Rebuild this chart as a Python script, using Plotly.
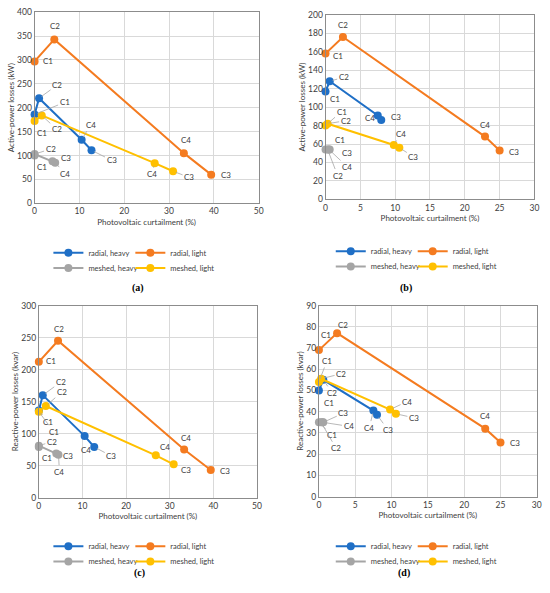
import plotly.graph_objects as go

# point labels along each line (drawn in this order)
case_labels = ["C1", "C2", "C4", "C3"]
series_names = ["radial, heavy", "radial, light", "meshed, heavy", "meshed, light"]
series_colors = ["#1f6fc6", "#f47b20", "#a5a5a5", "#ffc000"]

# (a) active-power losses, first network
a_x_radial_heavy = [0, 1.0, 10.5, 12.7]
a_y_radial_heavy = [186, 220, 133, 111]
a_x_radial_light = [0, 4.4, 33.3, 39.4]
a_y_radial_light = [297, 343, 105, 60]
a_x_meshed_heavy = [0, 0, 4.6, 4.0]
a_y_meshed_heavy = [100, 103, 85, 88]
a_x_meshed_light = [0, 1.6, 26.8, 30.9]
a_y_meshed_light = [172, 184, 84, 67]

# (b) active-power losses, second network
b_x_radial_heavy = [0, 0.6, 7.5, 8.0]
b_y_radial_heavy = [117, 128, 91, 86]
b_x_radial_light = [0, 2.5, 22.9, 25.0]
b_y_radial_light = [158, 176, 68, 53]
b_x_meshed_heavy = [0, 0.3, 0.5, 0.6]
b_y_meshed_heavy = [54, 54, 54, 54]
b_x_meshed_light = [0, 0.3, 9.8, 10.6]
b_y_meshed_light = [80, 82, 59, 56]

# (c) reactive-power losses, first network
c_x_radial_heavy = [0, 0.9, 10.5, 12.7]
c_y_radial_heavy = [136, 160, 96, 79]
c_x_radial_light = [0, 4.4, 33.3, 39.4]
c_y_radial_light = [212, 245, 75, 43]
c_x_meshed_heavy = [0, 0, 4.5, 4.0]
c_y_meshed_heavy = [79, 81, 67, 69]
c_x_meshed_light = [0, 1.6, 26.8, 30.9]
c_y_meshed_light = [134, 143, 66, 52]

# (d) reactive-power losses, second network
d_x_radial_heavy = [0, 0.6, 7.5, 8.0]
d_y_radial_heavy = [50, 55, 40.5, 38.5]
d_x_radial_light = [0, 2.5, 22.9, 25.0]
d_y_radial_light = [69, 77, 32, 25.5]
d_x_meshed_heavy = [0, 0.3, 0.5, 0.6]
d_y_meshed_heavy = [35, 35, 35, 35]
d_x_meshed_light = [0, 0.3, 9.8, 10.6]
d_y_meshed_light = [54, 55.5, 41, 39]

# label offsets in px (dx, dy down, leader line?) per series, in case_labels order
a_offsets = [
    [(30, -12, 1), (18, -13, 1), (9, -15, 1), (20, 10, 1)],
    [(13, 0, 0), (1, -13, 0), (2, -13, 0), (15, 0, 0)],
    [(7, 11, 0), (16, -5, 1), (10, 11, 1), (13, -3, 0)],
    [(7, 12, 0), (15, 14, 1), (-3, 11, 1), (16, 6, 1)],
]
b_offsets = [
    [(9, 8, 0), (14, -4, 1), (-8, 3, 0), (15, -3, 0)],
    [(12, 2, 0), (0, -12, 0), (0, -12, 0), (14, 2, 0)],
    [(14, -10, 0), (10, 26, 1), (18, 17, 1), (17, 3, 0)],
    [(16, -14, 1), (18, -3, 1), (7, -11, 1), (14, 9, 1)],
]
c_offsets = [
    [(9, 11, 1), (18, -13, 1), (1, 14, 0), (17, 9, 1)],
    [(12, -1, 0), (1, -12, 0), (2, -12, 0), (14, 1, 0)],
    [(8, 11, 0), (13, -4, 1), (1, 17, 1), (12, 3, 0)],
    [(15, 20, 1), (16, -14, 1), (9, -8, 0), (12, 6, 0)],
]
d_offsets = [
    [(10, 12.5, 0), (9, 13, 1), (-4, 17, 1), (11, 15, 1)],
    [(7, -15, 0), (6, -8, 0), (0, -13, 0), (15, 1, 0)],
    [(13, 13, 1), (15, 26, 1), (26, 4, 1), (20, -9, 1)],
    [(8, -21, 1), (20, -5, 1), (17, -8, 1), (18, 4, 1)],
]

W, H = 550, 593
FONT = "Lato"
TXT = "#404040"

panels = [
    dict(xs=[a_x_radial_heavy, a_x_radial_light, a_x_meshed_heavy, a_x_meshed_light],
         ys=[a_y_radial_heavy, a_y_radial_light, a_y_meshed_heavy, a_y_meshed_light],
         offs=a_offsets, box=(33, 7.3, 260, 201.7), xr=50, xd=10, yr=400, yd=50,
         ytitle="Active-power losses (kW)", tag="(a)", legx=(55, 138), legy=(252, 267.5)),
    dict(xs=[b_x_radial_heavy, b_x_radial_light, b_x_meshed_heavy, b_x_meshed_light],
         ys=[b_y_radial_heavy, b_y_radial_light, b_y_meshed_heavy, b_y_meshed_light],
         offs=b_offsets, box=(327.7, 10, 539.3, 197.7), xr=30, xd=5, yr=200, yd=20,
         ytitle="Active-power losses (kW)", tag="(b)", legx=(341, 424), legy=(250.5, 266)),
    dict(xs=[c_x_radial_heavy, c_x_radial_light, c_x_meshed_heavy, c_x_meshed_light],
         ys=[c_y_radial_heavy, c_y_radial_light, c_y_meshed_heavy, c_y_meshed_light],
         offs=c_offsets, box=(37.3, 305.7, 258.3, 501), xr=50, xd=10, yr=300, yd=50,
         ytitle="Reactive-power losses (kvar)", tag="(c)", legx=(55, 138), legy=(550.5, 566)),
    dict(xs=[d_x_radial_heavy, d_x_radial_light, d_x_meshed_heavy, d_x_meshed_light],
         ys=[d_y_radial_heavy, d_y_radial_light, d_y_meshed_heavy, d_y_meshed_light],
         offs=d_offsets, box=(321, 305.7, 541.7, 500), xr=30, xd=5, yr=90, yd=10,
         ytitle="Reactive-power losses (kvar)", tag="(d)", legx=(341, 424), legy=(550.5, 566)),
]

fig = go.Figure()
annotations = []
layout = {}

for p_i, p in enumerate(panels):
    n = "" if p_i == 0 else str(p_i + 1)
    xa, ya = "x" + n, "y" + n
    x0, y0, x1, y1 = p["box"]

    for s_i in range(4):
        # one small legend per entry so the 2x2 grid under each panel is exact
        k = p_i * 4 + s_i
        leg = "legend" if k == 0 else "legend%d" % (k + 1)
        fig.add_trace(go.Scatter(
            x=p["xs"][s_i], y=p["ys"][s_i], name=series_names[s_i],
            mode="lines+markers", xaxis=xa, yaxis=ya,
            line=dict(color=series_colors[s_i], width=2),
            marker=dict(color=series_colors[s_i], size=8),
            cliponaxis=False, legend=leg,
        ))
        layout[leg] = dict(x=(p["legx"][s_i % 2] - 8) / W, y=1 - p["legy"][s_i // 2] / H,
                           xanchor="left", yanchor="middle", itemwidth=30,
                           font=dict(family=FONT, size=7.5, color=TXT),
                           bgcolor="rgba(0,0,0,0)", itemclick=False)

        for c_i, lab in enumerate(case_labels):
            dx, dy, lead = p["offs"][s_i][c_i]
            ann = dict(x=p["xs"][s_i][c_i], y=p["ys"][s_i][c_i], xref=xa, yref=ya,
                       text=lab, font=dict(family=FONT, size=8, color=TXT))
            if lead:
                ann.update(showarrow=True, arrowhead=0, arrowwidth=0.8,
                           arrowcolor="#a6a6a6", ax=dx, ay=dy, standoff=3)
            else:
                ann.update(showarrow=False, xshift=dx, yshift=-dy)
            annotations.append(ann)

    axis_common = dict(showline=True, mirror=True, linecolor="#8c8c8c", linewidth=1,
                       showgrid=True, gridcolor="#d9d9d9", gridwidth=1, zeroline=False,
                       ticks="", tickfont=dict(family=FONT, size=8.5, color=TXT))
    layout["xaxis" + n] = dict(axis_common, domain=[x0 / W, x1 / W], range=[0, p["xr"]],
                               dtick=p["xd"], anchor=ya,
                               title=dict(text="Photovoltaic curtailment (%)", standoff=3,
                                          font=dict(family=FONT, size=8, color=TXT)))
    layout["yaxis" + n] = dict(axis_common, domain=[1 - y1 / H, 1 - y0 / H], range=[0, p["yr"]],
                               dtick=p["yd"], anchor=xa,
                               title=dict(text=p["ytitle"], standoff=1,
                                          font=dict(family=FONT, size=8, color=TXT)))

    annotations.append(dict(x=(x0 + x1) / 2 / W - 0.03, y=1 - (288 if p_i < 2 else 586) / H,
                            xref="paper", yref="paper", text="<b>%s</b>" % p["tag"],
                            showarrow=False,
                            font=dict(family="Liberation Serif", size=10, color="#000")))

fig.update_layout(**layout)
fig.update_layout(width=W, height=H, margin=dict(l=0, r=0, t=0, b=0),
                  paper_bgcolor="white", plot_bgcolor="white",
                  annotations=annotations, showlegend=True)

# drop the default page margin so the figure fills the window
fig.write_html("out.html", config={"displayModeBar": False},
               post_script="document.body.style.margin='0';")
